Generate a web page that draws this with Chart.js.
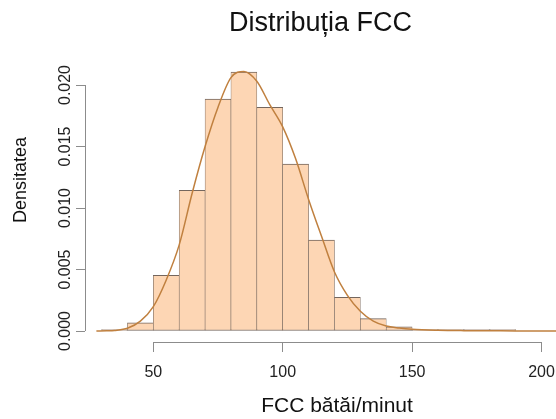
<!DOCTYPE html>
<html lang="ro">
<head>
<meta charset="UTF-8">
<title>Distribuția FCC</title>
<script src="https://cdn.jsdelivr.net/npm/chart.js"></script>
<style>
    body {
        margin: 0;
        background: #fff;
    }

    .chart-box {
        width: 556px;
        height: 419px;
    }
</style>
</head>
<body>
<div class="chart-box"><canvas id="fccChart"></canvas></div>

<script>
// histogram bins are 10 bpm wide, given here by their mid points
const binMids = [35, 45, 55, 65, 75, 85, 95, 105, 115, 125, 135, 145, 155, 165, 175, 185];
const binDensity = [0.00003, 0.00067, 0.00453, 0.01144, 0.01886, 0.02106, 0.01818, 0.01358,
                    0.0074, 0.00274, 0.001, 0.00033, 0.0001, 0.00005, 0.00003, 0.00003];

// kernel density curve
const curveX = [28, 32, 35, 40, 45, 50, 55, 60, 65, 70, 75, 80, 85, 90, 95, 100, 105, 110,
                115, 120, 125, 130, 135, 140, 145, 150, 160, 170, 180, 190, 200, 210];
const curveY = [0, 0.00002, 0.00005, 0.00022, 0.0008, 0.00198, 0.00415, 0.0070, 0.0112, 0.0150,
                0.0182, 0.0206, 0.0211, 0.0203, 0.0184, 0.0166, 0.0140, 0.0107, 0.0077, 0.0048,
                0.0029, 0.0016, 0.0008, 0.0004, 0.00024, 0.00014, 0.00006, 0.00003, 0.00002,
                0.00001, 0.000005, 0];

const xTicks = [50, 100, 150, 200];
const yTicks = [0, 0.005, 0.01, 0.015, 0.02];

const chartTitle = 'Distribuția FCC';
const xTitle = 'FCC bătăi/minut';
const yTitle = 'Densitatea';

const fontFamily = "'Liberation Sans', Arial, sans-serif";
const axisGray = '#8c8c8c';

// R style axes: the axis line only runs from the first to the last tick
const rAxes = {
    id: 'rAxes',
    afterDraw(chart) {
        const { ctx, chartArea, scales } = chart;
        const xs = scales.x;
        const ys = scales.y;
        ctx.save();
        ctx.strokeStyle = axisGray;
        ctx.lineWidth = 1;
        ctx.beginPath();
        const yb = Math.round(chartArea.bottom) + 0.5;
        ctx.moveTo(xs.getPixelForValue(xTicks[0]), yb);
        ctx.lineTo(xs.getPixelForValue(xTicks[xTicks.length - 1]), yb);
        const xl = Math.round(chartArea.left) + 0.5;
        ctx.moveTo(xl, ys.getPixelForValue(yTicks[0]));
        ctx.lineTo(xl, ys.getPixelForValue(yTicks[yTicks.length - 1]));
        ctx.stroke();

        ctx.fillStyle = '#111';
        ctx.textAlign = 'center';
        ctx.textBaseline = 'alphabetic';
        ctx.font = '21px ' + fontFamily;
        ctx.fillText(xTitle, 337, 411.5);

        ctx.translate(25.5, 180);
        ctx.rotate(-Math.PI / 2);
        ctx.font = '18px ' + fontFamily;
        ctx.fillText(yTitle, 0, 0);
        ctx.restore();
    }
};

// fixed scale sizes, and no extra room for labels that stick out
function fixSize(scale, key, size) {
    scale[key] = size;
    scale.paddingLeft = 0;
    scale.paddingRight = 0;
    scale.paddingTop = 0;
    scale.paddingBottom = 0;
}

const fccChart = new Chart(document.getElementById('fccChart').getContext('2d'), {
    type: 'bar',
    data: {
        datasets: [{
            type: 'line',
            label: 'densitate',
            data: curveX.map((x, i) => ({ x: x, y: curveY[i] })),
            borderColor: '#c0803f',
            borderWidth: 1.5,
            pointRadius: 0,
            cubicInterpolationMode: 'monotone',
            fill: false,
            order: 0
        }, {
            label: 'histograma',
            data: binMids.map((x, i) => ({ x: x, y: binDensity[i] })),
            backgroundColor: '#fdd6b4',
            borderColor: '#74665d',
            borderWidth: { top: 1, bottom: 1, left: 0.6, right: 0.6 },
            borderSkipped: false,
            barPercentage: 1,
            categoryPercentage: 1,
            minBarLength: 1.5,
            order: 1
        }]
    },
    options: {
        responsive: true,
        maintainAspectRatio: false,
        animation: false,
        layout: { padding: 0 },
        plugins: {
            legend: { display: false },
            tooltip: { enabled: false },
            title: {
                display: true,
                text: chartTitle,
                fullSize: false,
                color: '#111',
                font: { family: fontFamily, size: 27, weight: 'normal', lineHeight: 1.2 },
                padding: { top: 7, bottom: 22.6 }
            }
        },
        scales: {
            x: {
                type: 'linear',
                min: 23.6,
                max: 205.6,
                offset: false,
                border: { display: false },
                grid: { offset: false, drawOnChartArea: false, color: axisGray, tickLength: 10 },
                ticks: {
                    color: '#222',
                    padding: 11,
                    maxRotation: 0,
                    font: { family: fontFamily, size: 16 }
                },
                afterBuildTicks: scale => { scale.ticks = xTicks.map(v => ({ value: v })); },
                afterFit: scale => fixSize(scale, 'height', 77)
            },
            y: {
                min: -0.000894,
                max: 0.02187,
                border: { display: false },
                grid: { drawOnChartArea: false, color: axisGray, tickLength: 9 },
                ticks: {
                    color: '#222',
                    padding: -10,
                    crossAlign: 'center',
                    minRotation: 90,
                    maxRotation: 90,
                    font: { family: fontFamily, size: 16 },
                    callback: v => v.toFixed(3)
                },
                afterBuildTicks: scale => { scale.ticks = yTicks.map(v => ({ value: v })); },
                afterFit: scale => fixSize(scale, 'width', 85)
            }
        }
    },
    plugins: [rAxes]
});
</script>
</body>
</html>
